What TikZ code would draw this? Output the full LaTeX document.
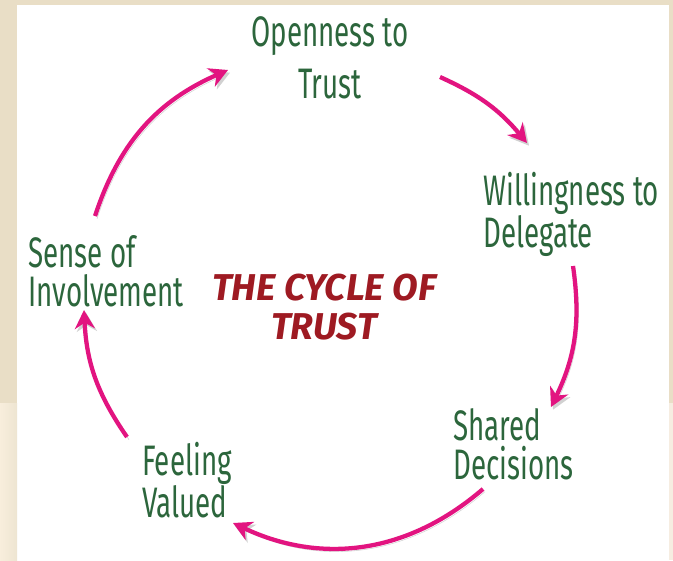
\documentclass[tikz,border=0pt]{standalone}
\usepackage{fontspec}
\newfontfamily\handfont[FakeStretch=0.65]{Fira Sans}
\newfontfamily\titlefont{Fira Sans}
\usetikzlibrary{arrows.meta}

\definecolor{leafgreen}{RGB}{44,102,60}
\definecolor{cyclered}{RGB}{158,26,34}
\definecolor{arrowpink}{RGB}{226,20,128}
\definecolor{paper}{RGB}{233,222,198}
\definecolor{paperlight}{RGB}{248,238,220}
\definecolor{paperpale}{RGB}{246,237,225}

\begin{document}
\begin{tikzpicture}[x=0.75pt,y=-0.75pt,
    stage/.style={text=leafgreen, inner sep=0pt, align=left,
        font=\handfont\fontsize{32}{#1}\selectfont},
    stage/.default=31,
    cyc/.style={draw=arrowpink, line width=3.2pt,
        -{Stealth[length=14pt,width=15pt,inset=4.5pt]},
        preaction={draw=black!18, transform canvas={shift={(1.5pt,-2pt)}}}}]
    \useasboundingbox (0,0) rectangle (673,560);

    % Paper
    \fill[paper] (0,0) rectangle (673,560);
    \fill[white] (17,5) rectangle (669,560);
    \shade[left color=paperlight, right color=paper!80] (0,403) rectangle (17,560);
    \fill[paperpale] (669,403) rectangle (673,560);

    % Stages
    \node[stage=39, align=center] (open) at (330,58) {Openness to\\Trust};
    \node[stage=31.5, anchor=west] (will) at (483,214) {Willingness to\\Delegate};
    \node[stage=29, anchor=west] (shared) at (453,444) {Shared\\Decisions};
    \node[stage=27, anchor=west] (feel) at (142,480) {Feeling\\Valued};
    \node[stage=29, anchor=west] (sense) at (28,271) {Sense of\\Involvement};

    % Title
    \node[text=cyclered, inner sep=0pt, align=center,
        font=\titlefont\bfseries\itshape\fontsize{28}{29}\selectfont]
        (title) at (324,307) {THE CYCLE OF\\TRUST};

    % Arrow ends
    \coordinate (s1) at (95,216);   \coordinate (e1) at (228,70);
    \coordinate (s2) at (440,77);   \coordinate (e2) at (527,143);
    \coordinate (s3) at (573,266);  \coordinate (e3) at (551,407);
    \coordinate (s4) at (483,489);  \coordinate (e4) at (233,523);
    \coordinate (s5) at (127,437);  \coordinate (e5) at (84,310);

    % Cycle
    \draw[cyc] (s1) to[bend left=24] (e1);
    \draw[cyc] (s2) to[bend left=13] (e2);
    \draw[cyc] (s3) to[bend left=17] (e3);
    \draw[cyc] (s4) to[bend left=33] (e4);
    \draw[cyc] (s5) to[bend left=16] (e5);
\end{tikzpicture}
\end{document}
